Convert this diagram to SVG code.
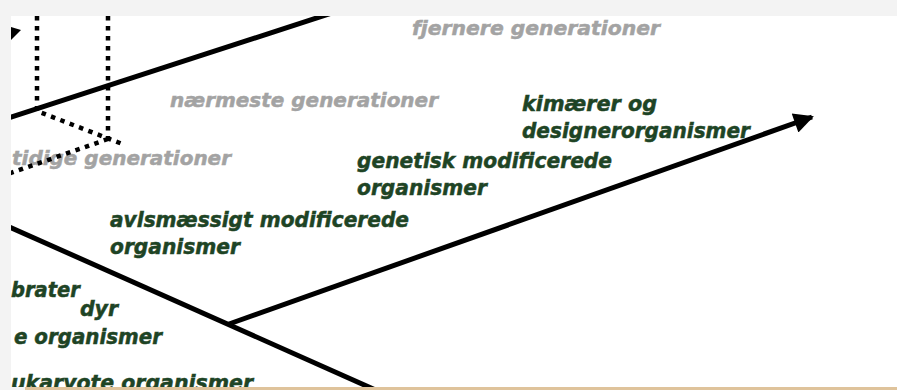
<svg xmlns="http://www.w3.org/2000/svg" width="897" height="390" viewBox="0 0 897 390">
<style>
.g{font-family:"DejaVu Sans","Liberation Sans",sans-serif;font-weight:bold;font-style:oblique;font-size:20px;fill:#a3a3a3;stroke:#a3a3a3;stroke-width:0.5}
.t{font-family:"DejaVu Sans","Liberation Sans",sans-serif;font-weight:bold;font-style:oblique;font-size:21px;fill:#1e4425;stroke:#1e4425;stroke-width:0.5}
.solid{stroke:#000;stroke-width:5;fill:none}
.dot{stroke:#000;stroke-width:4.5;stroke-dasharray:4.5 5.5;fill:none}
</style>
<defs>
<clipPath id="c"><rect x="11" y="16" width="886" height="371"/></clipPath>
<marker id="ah" viewBox="0 0 10 10" refX="9" refY="5" markerWidth="4.4" markerHeight="4" orient="auto" markerUnits="strokeWidth"><path d="M0,0 L10,5 L0,10 z" fill="#000"/></marker>
</defs>
<rect width="897" height="390" fill="#f3f3f3"/>
<rect x="11" y="16" width="886" height="371" fill="#fff"/>
<rect x="25" y="387" width="872" height="3" fill="#dfc39b"/>
<g clip-path="url(#c)">
<g id="labels-grey">
<text class="g" x="412" y="35" textLength="248" lengthAdjust="spacingAndGlyphs">fjernere generationer</text>
<text class="g" x="170" y="107" textLength="268" lengthAdjust="spacingAndGlyphs">nærmeste generationer</text>
<text class="g" x="12" y="165" textLength="219" lengthAdjust="spacingAndGlyphs">tidige generationer</text>
</g>
<g id="connectors">
<line class="solid" x1="5" y1="119" x2="335" y2="12"/>
<line class="solid" x1="5" y1="225" x2="380" y2="392"/>
<line class="solid" x1="229" y1="324" x2="812" y2="117" marker-end="url(#ah)"/>
<polyline class="dot" points="37,16 37,111 125,145"/>
<line class="dot" x1="108" y1="16" x2="108" y2="139"/>
<line class="dot" x1="108" y1="139" x2="5" y2="175"/>
<polygon points="11,27 21,30 11,40" fill="#000"/>
</g>
<g id="node-kimaerer">
<text class="t" x="522" y="111" textLength="135" lengthAdjust="spacingAndGlyphs">kimærer og</text>
<text class="t" x="522" y="138" textLength="228" lengthAdjust="spacingAndGlyphs">designerorganismer</text>
</g>
<g id="node-gmo">
<text class="t" x="357" y="168" textLength="255" lengthAdjust="spacingAndGlyphs">genetisk modificerede</text>
<text class="t" x="357" y="195" textLength="130" lengthAdjust="spacingAndGlyphs">organismer</text>
</g>
<g id="node-avl">
<text class="t" x="110" y="227" textLength="299" lengthAdjust="spacingAndGlyphs">avlsmæssigt modificerede</text>
<text class="t" x="110" y="254" textLength="130" lengthAdjust="spacingAndGlyphs">organismer</text>
</g>
<g id="node-brater"><text class="t" x="11" y="297" textLength="69" lengthAdjust="spacingAndGlyphs">brater</text></g>
<g id="node-dyr"><text class="t" x="80" y="316" textLength="38" lengthAdjust="spacingAndGlyphs">dyr</text></g>
<g id="node-organismer"><text class="t" x="14" y="344" textLength="148" lengthAdjust="spacingAndGlyphs">e organismer</text></g>
<g id="node-eukaryote"><text class="t" x="11" y="390" textLength="242" lengthAdjust="spacingAndGlyphs">ukaryote organismer</text></g>
</g>
</svg>
